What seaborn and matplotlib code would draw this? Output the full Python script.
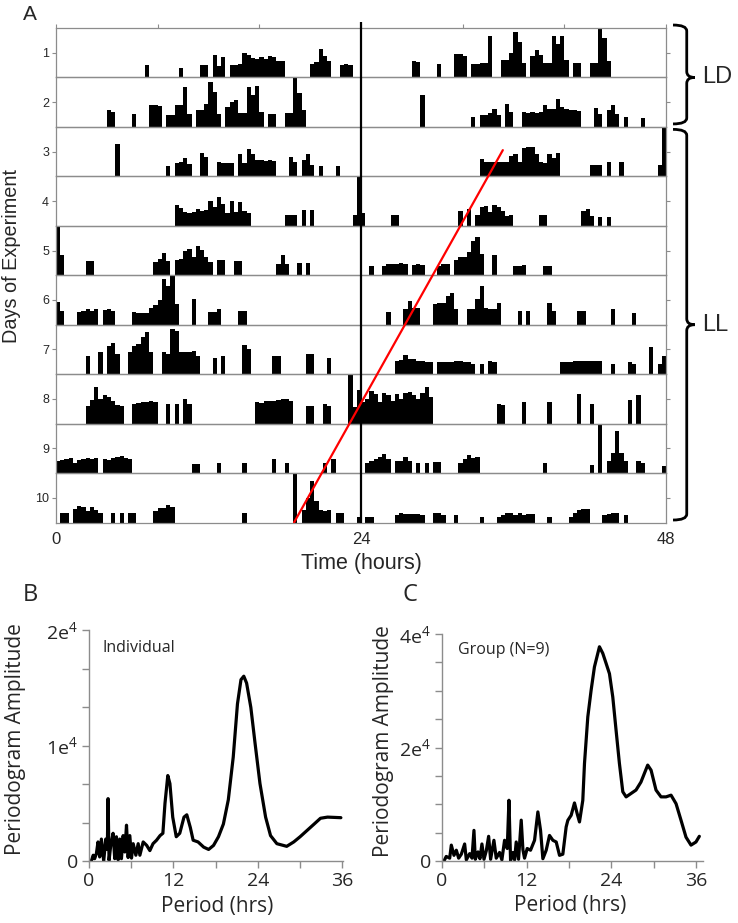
import numpy as np
import matplotlib
matplotlib.use("Agg")
import matplotlib.pyplot as plt
import seaborn as sns
import pandas as pd
from matplotlib.path import Path
from matplotlib.patches import PathPatch
import matplotlib.transforms as mtransforms

# ---------------- data: actogram activity runs (start hour, activity % per 20-min bin)
day1 = [(6.94, [26]), (9.64, [19]), (11.24, [26, 26]), (12.2, [45, 24, 41]),
        (13.72, [26, 26, 28, 50, 45, 40, 38, 42, 38, 44, 42, 33, 33]),
        (19.96, [28, 32, 57, 43]), (21.4, [34]), (22.26, [25, 27, 25]),
        (27.93, [34, 32]), (29.97, [28]), (31.23, [48, 48, 43]), (32.7, [27, 27]),
        (33.5, [30, 30, 84]), (34.87, [36, 36, 50, 91, 72, 30]),
        (37.24, [43, 55, 45, 30, 30, 83, 67, 84, 35]), (40.7, [29, 29]),
        (41.9, [30, 30, 100, 79, 34])]
day2 = [(4.0, [34, 30]), (6.0, [27]), (7.23, [45, 45, 42]), (8.7, [25, 25]),
        (9.5, [45, 45, 80, 27]), (11.0, [34, 34, 47, 91, 71, 27]),
        (13.2, [41, 50, 55, 28, 28, 80, 64, 82, 30]), (16.8, [27, 27]), (18.0, [28, 28]),
        (18.73, [100, 68, 34]),
        (28.75, [64]), (32.75, [20]), (33.45, [25, 25, 28, 37, 25]), (35.4, [47, 30]),
        (36.7, [30, 28, 30, 28, 30, 45, 37, 37, 57, 40, 36, 34, 34, 33]),
        (42.2, [38, 27]), (43.5, [34, 44, 27]), (44.6, [20]), (46.0, [17])]
day3 = [(4.71, [66]), (8.72, [20]), (9.46, [27, 30, 38, 25]), (11.42, [48, 40]),
        (12.72, [30, 28, 28, 28]), (14.28, [46, 28, 56, 46, 34, 33, 32, 33, 32]),
        (18.17, [40, 30]), (19.47, [34, 45, 23]), (20.5, [20]), (21.96, [20]),
        (33.46, [36, 30, 30, 30, 29, 30, 30, 41, 46, 30, 57, 59, 60, 45, 30, 28, 46, 38, 47]),
        (41.9, [23, 23, 23]), (43.47, [30]), (44.2, [30]), (47.48, [23, 100])]
day4 = [(9.46, [43, 36, 27, 26, 28, 34, 30, 31, 50, 39, 58, 45, 26, 50, 27, 49, 30, 26]),
        (18.0, [22, 22, 22]), (19.47, [32]), (20.1, [32]), (23.44, [22, 100]),
        (24.1, [26]), (26.2, [22, 22]), (31.7, [29]),
        (32.46, [34, 0, 22, 38, 40, 27, 43, 38, 29, 20, 22]),
        (38.0, [22, 22]), (41.5, [29, 33, 20]), (42.7, [18]), (43.4, [17])]
day5 = [(0.0, [100, 40]), (2.2, [28, 28]),
        (7.7, [26, 33, 45, 28, 0, 30, 32, 49, 54, 36, 59, 52, 36, 26]),
        (12.5, [30, 30]), (14.0, [28, 28]), (17.5, [23, 40, 23]), (19.0, [24]), (19.6, [24]),
        (24.5, [19]), (25.7, [19]), (26.15, [23, 23, 22, 24, 23]), (28.0, [20, 22, 20]),
        (30.0, [19, 23, 23]), (31.2, [30, 37, 37, 47, 70, 77, 43]), (34.3, [40]),
        (36.0, [19, 19, 20]), (38.4, [19, 19])]
day6 = [(0.0, [46, 27]), (1.7, [25, 27, 31, 27, 31, 0, 29, 31, 27]),
        (5.93, [25, 24, 24, 24, 34, 39, 50, 92, 78, 100, 41]), (10.5, [51]),
        (11.87, [25, 25, 31]), (14.47, [27, 27]),
        (26.15, [25]), (27.5, [32, 48, 34, 34]), (29.67, [41, 44, 44, 58, 65, 31]),
        (32.27, [31, 31, 51, 78, 34, 32, 32, 44]), (36.3, [27]), (37.1, [27]),
        (38.6, [44, 27]), (40.9, [27]), (41.5, [27]), (43.8, [32]), (45.4, [24])]
day7 = [(2.2, [36]), (3.45, [44]), (4.0, [56, 63, 40]),
        (5.67, [44, 56, 61, 75, 85, 44]), (8.3, [44, 40, 92, 87, 44, 44, 44, 46, 37]),
        (12.24, [32]), (13.0, [37]), (14.5, [58, 50]), (17.06, [36]), (17.5, [36]),
        (19.73, [40, 40]), (21.5, [32]),
        (26.5, [27, 28, 39, 30, 30, 27, 27, 25, 25]), (30.0, [24, 24, 25, 25, 26, 26, 24, 24]),
        (32.75, [20]), (33.4, [20]), (34.0, [27, 25]),
        (39.7, [24, 24, 24, 26, 27, 27, 27, 27, 27, 27]), (43.6, [20]), (45.0, [24]),
        (45.5, [20]), (46.8, [54]), (47.5, [20, 36])]
day8 = [(2.4, [36, 47, 74, 50, 57, 53, 45, 38, 36]), (5.93, [40, 42, 43, 43, 45, 43]),
        (8.6, [40]), (9.5, [40]), (9.94, [50, 40]),
        (15.76, [44, 42, 46, 46, 46, 48, 50, 49, 46]), (19.73, [36, 36]), (21.0, [40]),
        (21.5, [36]), (22.9, [100]), (23.4, [33, 67]),
        (24.0, [43, 50, 65, 60, 43, 62, 58, 45, 60, 50, 62, 64, 57, 50, 62, 74, 53]),
        (34.8, [40, 38]), (36.7, [43]), (38.6, [43]), (41.0, [60]), (42.1, [40]),
        (44.9, [47]), (45.7, [58])]
day9 = [(0.0, [24, 26, 29, 31, 20, 26, 28, 30, 28, 30, 0, 28, 26, 30, 32, 34, 30, 28]),
        (10.75, [19, 19]), (12.7, [20]), (14.5, [20]), (17.0, [29]), (18.0, [20]),
        (21.0, [20]), (21.7, [28]),
        (24.4, [21, 24, 28, 33, 38, 29]), (26.5, [24, 24, 33, 24]), (28.2, [20]),
        (28.9, [20]), (29.7, [22, 22]), (31.7, [21, 28, 36, 31, 33]), (38.4, [20]),
        (42.1, [17]), (42.65, [100]), (43.4, [24, 41, 86, 41, 24]), (45.55, [24]),
        (46.1, [20]), (47.8, [14])]
day10 = [(0.37, [19, 19, 0, 27, 34, 32, 23, 31, 26, 19]), (4.27, [19, 0, 19]),
         (5.75, [19, 19]), (7.8, [23, 30, 30, 36, 31]), (14.5, [19]), (18.73, [100]),
         (19.47, [26, 50, 84, 43, 26, 23]), (21.44, [26]), (22.0, [19, 19]), (23.7, [12]),
         (24.4, [12, 12]), (26.7, [16, 19, 18, 18, 17, 18, 16]), (29.7, [19, 19, 16]),
         (31.3, [16]), (33.2, [12]), (34.5, [12]), (35.05, [16, 20, 20, 16, 19, 16, 18, 18]),
         (38.8, [12]), (40.25, [12, 19, 26, 27, 27]), (43.0, [16, 17, 19, 19, 0, 16])]
day_runs = [day1, day2, day3, day4, day5, day6, day7, day8, day9, day10]
day_labels = ["1", "2", "3", "4", "5", "6", "7", "8", "9", "10"]

# red free-running onset line (hour, row-position from bottom)
onset_hours = [18.73, 35.16]
onset_rows = [0.0, 7.53]

# ---------------- data: periodograms
per_b = [0.33, 0.6, 0.8, 1.05, 1.28, 1.52, 1.76, 2.09, 2.38, 2.6, 2.71, 2.85, 3.09, 3.42,
         3.66, 3.9, 4.14, 4.37, 4.61, 4.85, 5.09, 5.33, 5.56, 5.8, 6.04, 6.28, 6.66, 6.99,
         7.23, 7.7, 8.2, 8.65, 9.1, 9.6, 10.1, 10.5, 10.8, 11.2, 11.5, 11.9, 12.4, 12.9,
         13.5, 13.9, 14.4, 14.8, 15.5, 16.3, 17.0, 17.7, 18.4, 19.1, 19.8, 20.5, 21.1,
         21.6, 22.0, 22.4, 23.0, 23.6, 24.3, 25.1, 25.8, 26.7, 28.1, 29.1, 30.0, 31.0,
         32.0, 32.9, 33.9, 35.8]
amp_b = [0, 500, 200, 640, 1650, 350, 1900, 0, 1900, 1000, 5400, 60, 1350, 2400,
         200, 2100, 100, 1900, 200, 2200, 780, 3100, 300, 2200, 250, 1500, 500, 1500,
         500, 1650, 1350, 900, 1500, 1800, 2200, 2400, 5000, 7400, 6700, 3800, 2100, 2400,
         3800, 4000, 2900, 1800, 1650, 1200, 1000, 1350, 2100, 3200, 5300, 9000, 13600,
         15700, 16000, 15400, 13300, 10200, 6700, 3800, 2200, 1500, 1270, 1650, 2100, 2650,
         3200, 3700, 3800, 3750]
per_c = [0.28, 0.6, 1.09, 1.32, 1.7, 2.03, 2.36, 2.74, 3.21, 3.45, 3.92, 4.25, 4.53, 4.72,
         5.1, 5.38, 5.66, 5.95, 6.28, 6.61, 6.89, 7.36, 7.69, 8.16, 8.49, 8.87, 9.25, 9.49,
         9.72, 10.05, 10.29, 10.52, 10.85, 11.23, 11.47, 11.7, 12.08, 12.55, 13.12, 13.59,
         13.97, 14.3, 14.77, 15.24, 15.72, 16.19, 16.66, 17.13, 17.6, 17.84, 18.31, 18.78,
         19.16, 19.49, 19.96, 20.2, 20.67, 21.14, 21.61, 22.32, 22.79, 23.27, 23.74, 24.21,
         24.68, 25.15, 25.63, 26.1, 26.8, 27.5, 28.2, 29.16, 29.64, 30.34, 31.05, 31.76,
         32.47, 33.18, 33.88, 34.59, 35.3, 36.0, 36.48]
amp_c = [0, 800, 500, 2800, 1000, 1900, 500, 1200, 3000, 200, 1300, 500, 5400, 300,
         1600, 400, 3000, 300, 1800, 4350, 300, 3650, 500, 1500, 200, 3650, 2200, 10700,
         100, 1500, 200, 3350, 300, 7200, 2000, 500, 2200, 1900, 3650, 8650,
         5400, 400, 1900, 4500, 3650, 3350, 1000, 1200, 6000, 7170, 8060, 10230,
         8350, 6880, 10700, 17200, 25400, 30100, 34200, 37750, 36600, 34800, 33000, 28900,
         23000, 17200, 12200, 11300, 11900, 12500, 13900, 16900, 16000, 12500, 11300, 11300,
         11600, 10100, 7200, 4200, 2800, 3350, 4350]

# ---------------- style
sns.set_style("white")
plt.rcParams['font.family'] = ['Liberation Sans', 'DejaVu Sans']
plt.rcParams['mathtext.default'] = 'regular'
GRAY = '#8c8c8c'

fig = plt.figure(figsize=(7.38, 9.23), dpi=100)

def expand(runs):
    h = np.zeros(144)
    for start, vals in runs:
        i0 = int(round(start * 3))
        for k, v in enumerate(vals):
            if 0 <= i0 + k < 144:
                h[i0 + k] = v / 100.0
    return h

L, W = 56 / 738, 610 / 738
TOP, BOT = 1 - 28 / 923, 1 - 522.5 / 923
RH = (TOP - BOT) / 10
centers = (np.arange(144) + 0.5) / 3.0

for r in range(10):
    ax = fig.add_axes([L, TOP - (r + 1) * RH, W, RH])
    ax.patch.set_alpha(0)
    df = pd.DataFrame({'hour': centers, 'activity': expand(day_runs[r])})
    sns.histplot(data=df, x='hour', weights='activity', binwidth=1 / 3, binrange=(0, 48),
                 element='step', fill=True, color='black', alpha=1, linewidth=0, ax=ax)
    ax.set_xlim(0, 48)
    ax.set_ylim(0, 1)
    ax.set_xlabel('')
    ax.set_ylabel('')
    for s in ax.spines.values():
        s.set_color(GRAY)
        s.set_linewidth(0.9)
    ax.set_yticks([0.5])
    ax.set_yticklabels([day_labels[r]])
    ax.tick_params(axis='y', left=True, right=True, labelright=False, length=3,
                   width=0.8, color=GRAY, labelsize=9, pad=2, direction='out')
    if r == 0:
        ax.set_xticks(np.arange(0, 49, 8))
        ax.tick_params(axis='x', top=True, bottom=False, labeltop=False,
                       labelbottom=False, length=3, width=0.8, color=GRAY, direction='out')
    elif r == 9:
        ax.set_xticks([0, 24, 48])
        ax.set_xticklabels(['0', '24', '48'])
        ax.tick_params(axis='x', bottom=True, length=0, labelsize=12, pad=7)
    else:
        ax.set_xticks([])

ov = fig.add_axes([L, BOT, W, TOP - BOT])
ov.set_xlim(0, 48)
ov.set_ylim(0, 10)
ov.axis('off')
ov.patch.set_alpha(0)
ov.plot([24, 24], [0, 10.12], color='black', lw=1.6, clip_on=False, solid_capstyle='butt')
sns.lineplot(x=onset_hours, y=onset_rows, ax=ov, color='red', lw=1.6)

trans = mtransforms.blended_transform_factory(ov.transAxes, ov.transData)

def brace(y0, y1, ymid, xc=1.0115, xl=1.034, xt=1.047, r=0.12):
    verts = [(xc, y1), (xl, y1), (xl, y1 - r), (xl, ymid + r), (xl, ymid), (xt, ymid),
             (xl, ymid), (xl, ymid - r), (xl, y0 + r), (xl, y0), (xc, y0)]
    codes = [Path.MOVETO, Path.CURVE3, Path.CURVE3, Path.LINETO, Path.CURVE3, Path.CURVE3,
             Path.CURVE3, Path.CURVE3, Path.LINETO, Path.CURVE3, Path.CURVE3]
    p = PathPatch(Path(verts, codes), fill=False, lw=2.0, color='black',
                  transform=trans, clip_on=False)
    ov.add_patch(p)

brace(8.06, 10.06, 9.0)
brace(0.05, 7.95, 4.0)
ov.text(1.059, 9.0, 'LD', transform=trans, fontsize=17, va='center', ha='left')
ov.text(1.059, 4.0, 'LL', transform=trans, fontsize=17, va='center', ha='left')

fig.text(23 / 738, 1 - 15 / 923, 'A', fontsize=15, va='center', ha='left')
fig.text(12 / 738, 1 - 256 / 923, 'Days of Experiment', rotation=90, fontsize=14.3,
         va='center', ha='center')
fig.text(L + W / 2, 1 - 564 / 923, 'Time (hours)', fontsize=15.5, va='center', ha='center')

# ---------------- periodograms
OS = ['Open Sans', 'DejaVu Sans']

def perio(rect, per, amp, ymax, nt, labels, xmax, ylab_x, xlab_x):
    ax = fig.add_axes(rect)
    ax.patch.set_alpha(0)
    sns.lineplot(x=per, y=amp, ax=ax, color='black', lw=2.3, sort=False)
    ax.set_xlim(0, xmax)
    ax.set_ylim(0, ymax)
    sns.despine(ax=ax)
    for s in ['left', 'bottom']:
        ax.spines[s].set_color(GRAY)
        ax.spines[s].set_linewidth(1.0)
    ax.set_yticks(np.linspace(0, ymax, nt))
    ax.set_yticklabels(labels, fontfamily=OS, fontsize=14)
    ax.set_xticks(np.arange(0, 37, 6))
    ax.set_xticklabels(['0', '', '12', '', '24', '', '36'], fontfamily=OS, fontsize=14)
    ax.tick_params(axis='both', length=5, width=1, color=GRAY, direction='out', pad=3,
                   left=True, bottom=True)
    ax.set_ylabel('Periodogram Amplitude', fontfamily=OS, fontsize=15, va='center')
    ax.yaxis.set_label_coords(ylab_x, 0.53)
    ax.set_xlabel('Period (hrs)', fontfamily=OS, fontsize=15, va='center')
    ax.xaxis.set_label_coords(xlab_x, -0.195)
    return ax

axB = perio([89 / 738, 1 - 861 / 923, 254 / 738, 231 / 923], per_b, amp_b, 20000, 7,
            ['0', '', '', '1e$^4$', '', '', '2e$^4$'], 36.1, -0.291, 0.506)
axC = perio([442 / 738, 1 - 861 / 923, 261 / 738, 227 / 923], per_c, amp_c, 40000, 9,
            ['0', '', '', '', '2e$^4$', '', '', '', '4e$^4$'], 37.0, -0.226, 0.49)

fig.text(102 / 738, 1 - 648 / 923, 'Individual', fontfamily=OS, fontsize=11.5,
         va='center', ha='left')
fig.text(458 / 738, 1 - 650 / 923, 'Group (N=9)', fontfamily=OS, fontsize=11.5,
         va='center', ha='left')
fig.text(23 / 738, 1 - 595 / 923, 'B', fontfamily=OS, fontsize=17, va='center', ha='left')
fig.text(403 / 738, 1 - 595 / 923, 'C', fontfamily=OS, fontsize=17, va='center', ha='left')

fig.savefig('out.png', dpi=100)
